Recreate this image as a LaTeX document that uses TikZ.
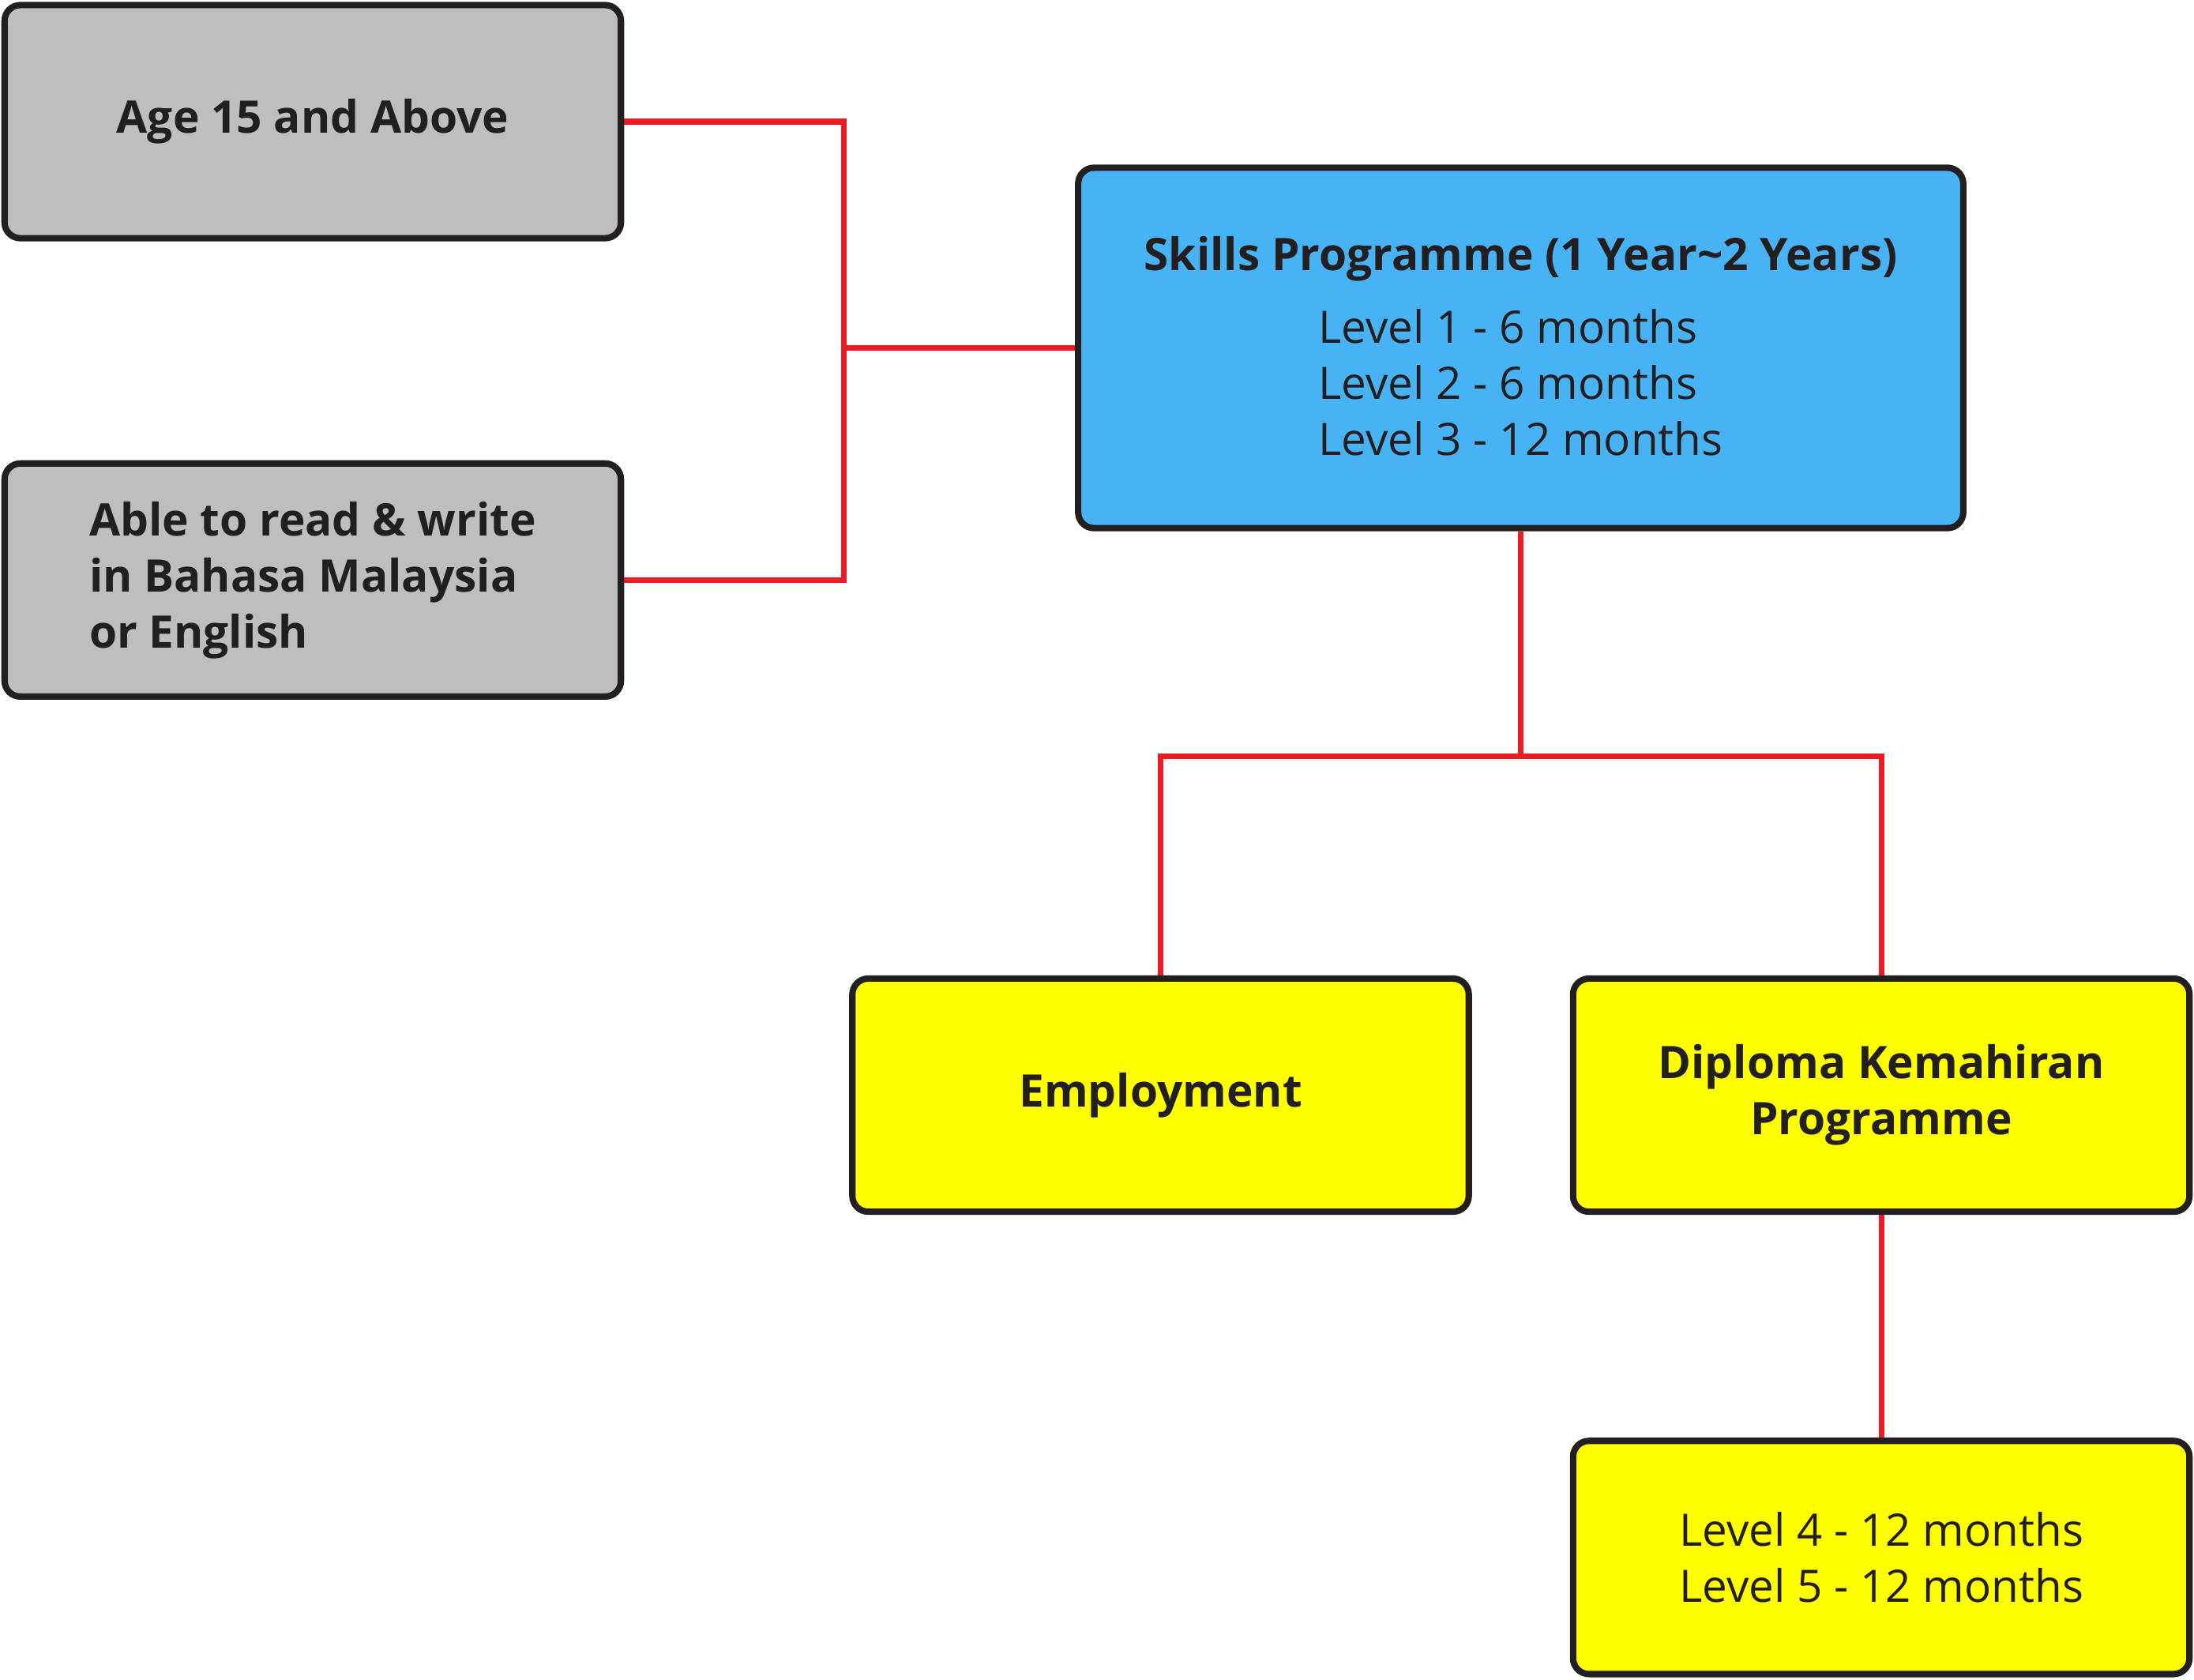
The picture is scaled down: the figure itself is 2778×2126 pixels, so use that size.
\documentclass[tikz,border=0pt]{standalone}
\usepackage{fontspec}
\setmainfont{Open Sans}
\usetikzlibrary{positioning, backgrounds}
\definecolor{boxGray}{HTML}{BFBDBE}
\definecolor{boxBlue}{HTML}{47B3F5}
\definecolor{boxYellow}{HTML}{FFFF00}
\definecolor{boxLine}{HTML}{231F20}
\definecolor{lineRed}{HTML}{ED1C24}
\tikzset{
    boxBase/.style={draw=boxLine, line width=2.3pt, rounded corners=0.2cm, text=boxLine,
        minimum width=7.8cm, minimum height=2.95cm}, % common look of every box
    boldText/.style={font=\fontsize{16.15}{20.2}\selectfont\bfseries},
    lightText/.style={font=\fontsize{16.1}{20.2}\selectfont},
    redLine/.style={draw=lineRed, line width=2pt}, % the red connectors
}
\begin{document}
\begin{tikzpicture}[
                    x=0.01cm, y=-0.01cm,
                    styleGray/.style={boxBase, fill=boxGray},
                    styleBlue/.style={boxBase, fill=boxBlue, minimum width=11.2cm, minimum height=4.56cm},
                    styleYellow/.style={boxBase, fill=boxYellow},
                    node distance=5.8cm,
                ]
                \useasboundingbox (0,0) rectangle (2778,2126);
                \node[styleGray, boldText] (age) at (396,154) {Age 15 and Above};
                \node[styleGray, boldText, align=left, below of=age] (able) {Able to read \& write\\in Bahasa Malaysia\\or English};
                \node[styleBlue, boldText, align=center] (skills) at (1925.5,440.5) {\rule{0pt}{17pt}Skills Programme (1 Year\textasciitilde 2 Years)\\[6pt]
                    {\mdseries\fontsize{16.1}{20.2}\selectfont\begin{tabular}[t]{@{}l@{}}Level 1 - 6 months\\Level 2 - 6 months\\Level 3 - 12 months\end{tabular}}};
                \node[styleYellow, boldText] (employment) at (1469.5,1386.5) {Employment};
                \node[styleYellow, boldText, align=center, right of=employment, node distance=9.12cm] (diploma) {Diploma Kemahiran\\Programme};
                \node[styleYellow, lightText, align=left, below of=diploma, node distance=5.85cm] (level) {Level 4 - 12 months\\Level 5 - 12 months};
                \coordinate (jLeft) at ([xshift=-2.92cm]skills.west);
                \coordinate (jDown) at ([yshift=-2.85cm]skills.south);
                \begin{scope}[on background layer]
                \draw[redLine] (age.east) -| (jLeft) |- (able.east);
                \draw[redLine] (jLeft) -- (skills.west);
                \draw[redLine] (skills.south) -- (jDown) -| (employment.north);
                \draw[redLine] (jDown) -| (diploma.north);
                \draw[redLine] (diploma.south) -- (level.north);
                \end{scope}
            \end{tikzpicture}
\end{document}
